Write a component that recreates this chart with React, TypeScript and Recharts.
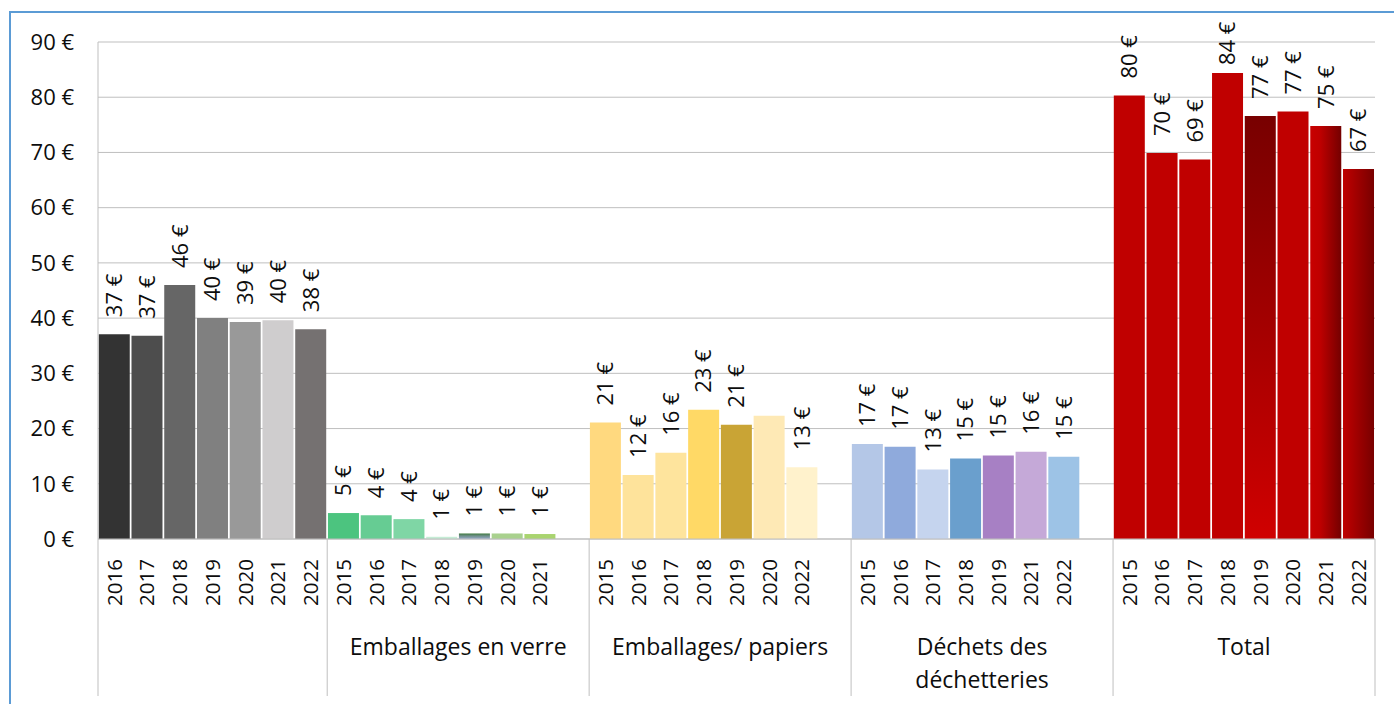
import React from 'react';
import { BarChart, Bar, XAxis, YAxis, CartesianGrid, Cell, LabelList } from 'recharts';

// ---------- data ----------
const GROUP_LABELS: string[][] = [
  [],
  ['Emballages en verre'],
  ['Emballages/ papiers'],
  ['Déchets des', 'déchetteries'],
  ['Total'],
];

const YEARS_1 = ['2016', '2017', '2018', '2019', '2020', '2021', '2022'];
const VALUES_1 = [37.1, 36.8, 46.0, 40.0, 39.3, 39.6, 38.0];
const LABELS_1 = ['37 €', '37 €', '46 €', '40 €', '39 €', '40 €', '38 €'];

const YEARS_2 = ['2015', '2016', '2017', '2018', '2019', '2020', '2021'];
const VALUES_2 = [4.7, 4.3, 3.6, 0.4, 1.0, 1.0, 0.9];
const LABELS_2 = ['5 €', '4 €', '4 €', '1 €', '1 €', '1 €', '1 €'];

const YEARS_3 = ['2015', '2016', '2017', '2018', '2019', '2020', '2022'];
const VALUES_3 = [21.1, 11.6, 15.6, 23.4, 20.7, 22.3, 13.0];
const LABELS_3 = ['21 €', '12 €', '16 €', '23 €', '21 €', '', '13 €'];

const YEARS_4 = ['2015', '2016', '2017', '2018', '2019', '2021', '2022'];
const VALUES_4 = [17.2, 16.7, 12.6, 14.6, 15.1, 15.8, 14.9];
const LABELS_4 = ['17 €', '17 €', '13 €', '15 €', '15 €', '16 €', '15 €'];

const YEARS_5 = ['2015', '2016', '2017', '2018', '2019', '2020', '2021', '2022'];
const VALUES_5 = [80.3, 69.9, 68.7, 84.4, 76.6, 77.4, 74.8, 67.0];
const LABELS_5 = ['80 €', '70 €', '69 €', '84 €', '77 €', '77 €', '75 €', '67 €'];

const Y_TICKS = [0, 10, 20, 30, 40, 50, 60, 70, 80, 90];

// ---------- styles ----------
const GROUP_SLOTS = [7, 8, 8, 8, 8];
const COLORS: string[][] = [
  ['#333333', '#4d4d4d', '#666666', '#808080', '#999999', '#cfcdce', '#757171'],
  ['#4cc47f', '#66cc93', '#7fd6a5', '#c5ecd5', 'url(#gGreen19)', '#a9d18e', '#a9d46f'],
  ['#ffd97f', '#fee39b', '#fee49d', '#ffd966', '#c9a435', '#fee9b5', '#fff2cc'],
  ['#b4c7e7', '#8faadc', '#c5d4ee', '#6a9fcd', '#a780c4', '#c5a9d8', '#9dc3e6'],
  ['#c00000', '#c00000', '#c00000', '#c00000', 'url(#gRed19)', '#c00000', 'url(#gRed21)', 'url(#gRed22)'],
];

const FONT = '"Open Sans", "Noto Sans", sans-serif';
const TEXT = '#0d0d0d';
const AXIS = '#bfbfbf';

const W = 1394;
const H = 704;
const M = { top: 42, right: 19, bottom: 5, left: 10 };
const Y_W = 88;
const X_H = 160;
const LABEL_TOP_LIMIT = 20;
const LABEL_LEN = 45;

type Slot = {
  id: string;
  year: string;
  value: number | null;
  label: string;
  fill: string;
  group: number;
  first: boolean;
  lastOverall: boolean;
  labelSlot: boolean;
  labelShift: boolean;
};

const GROUPS = [
  { years: YEARS_1, values: VALUES_1, labels: LABELS_1 },
  { years: YEARS_2, values: VALUES_2, labels: LABELS_2 },
  { years: YEARS_3, values: VALUES_3, labels: LABELS_3 },
  { years: YEARS_4, values: VALUES_4, labels: LABELS_4 },
  { years: YEARS_5, values: VALUES_5, labels: LABELS_5 },
];

const SLOTS: Slot[] = [];
GROUPS.forEach((g, gi) => {
  const n = GROUP_SLOTS[gi];
  const even = n % 2 === 0;
  const labelIdx = even ? n / 2 - 1 : Math.floor(n / 2);
  for (let k = 0; k < n; k++) {
    const has = k < g.years.length;
    SLOTS.push({
      id: `s${SLOTS.length}`,
      year: has ? g.years[k] : '',
      value: has ? g.values[k] : null,
      label: has ? g.labels[k] : '',
      fill: has ? COLORS[gi][k] : '#fff',
      group: gi,
      first: k === 0,
      lastOverall: gi === GROUPS.length - 1 && k === n - 1,
      labelSlot: k === labelIdx,
      labelShift: even,
    });
  }
});

const PLOT_W = W - M.left - M.right - Y_W;
const HALF = PLOT_W / SLOTS.length / 2;

const XTick = (props: any) => {
  const { x, y, payload } = props;
  const i = payload?.index ?? props.index;
  const s = SLOTS[i];
  if (!s) return null;
  const cx = Number(x);
  const cy = Number(y);
  const lines = GROUP_LABELS[s.group];
  return (
    <g>
      {s.year && (
        <text
          transform={`translate(${cx + 7.3},${cy + 20}) rotate(-90)`}
          textAnchor="end"
          fontSize={20.5}
          fontFamily={FONT}
          fill={TEXT}
        >
          {s.year}
        </text>
      )}
      {s.first && <line x1={cx - HALF} x2={cx - HALF} y1={cy} y2={cy + 157} stroke={AXIS} strokeWidth={1} />}
      {s.lastOverall && <line x1={cx + HALF} x2={cx + HALF} y1={cy} y2={cy + 157} stroke={AXIS} strokeWidth={1} />}
      {s.labelSlot &&
        lines.map((t, k) => (
          <text
            key={k}
            x={cx + (s.labelShift ? HALF : 0)}
            y={cy + 116 + k * 33}
            textAnchor="middle"
            fontSize={23}
            fontFamily={FONT}
            fill={TEXT}
          >
            {t}
          </text>
        ))}
    </g>
  );
};

const BarLabel = (props: any) => {
  const { x, y, width, value } = props;
  if (!value) return null;
  const cx = Number(x) + Number(width) / 2;
  const bottom = Math.max(Number(y) - 17, LABEL_TOP_LIMIT + LABEL_LEN);
  return (
    <text
      transform={`translate(${cx + 7.8},${bottom}) rotate(-90)`}
      textAnchor="start"
      fontSize={22}
      fontFamily={FONT}
      fill={TEXT}
    >
      {value}
    </text>
  );
};

export default function App() {
  return (
    <div style={{ position: 'absolute', left: 0, top: 0, width: W, height: H, background: '#fff', overflow: 'hidden' }}>
      <div
        style={{
          position: 'absolute',
          left: 9,
          top: 11,
          width: W,
          height: H,
          borderTop: '2px solid #5b9bd5',
          borderLeft: '2px solid #5b9bd5',
          boxSizing: 'border-box',
        }}
      />
      <div style={{ position: 'absolute', left: 0, top: 0 }}>
        <BarChart width={W} height={H} data={SLOTS} margin={M} barCategoryGap={0.75} barGap={0}>
          <defs>
            <linearGradient id="gGreen19" x1="0" y1="0" x2="0" y2="1">
              <stop offset="0" stopColor="#3f7a3f" />
              <stop offset="0.45" stopColor="#6f8f8a" />
              <stop offset="1" stopColor="#97aacb" />
            </linearGradient>
            <linearGradient id="gRed19" x1="0" y1="0" x2="0" y2="1">
              <stop offset="0" stopColor="#780000" />
              <stop offset="1" stopColor="#d00000" />
            </linearGradient>
            <linearGradient id="gRed21" x1="0" y1="0" x2="1" y2="0">
              <stop offset="0" stopColor="#c80000" />
              <stop offset="0.3" stopColor="#c00000" />
              <stop offset="1" stopColor="#740000" />
            </linearGradient>
            <linearGradient id="gRed22" x1="0" y1="0" x2="1" y2="0">
              <stop offset="0" stopColor="#c00000" />
              <stop offset="1" stopColor="#780000" />
            </linearGradient>
          </defs>
          <CartesianGrid vertical={false} stroke={AXIS} strokeWidth={1} />
          <XAxis
            dataKey="id"
            interval={0}
            tickLine={false}
            tickSize={0}
            tickMargin={0}
            height={X_H}
            axisLine={{ stroke: AXIS, strokeWidth: 1 }}
            tick={(p: any) => <XTick {...p} />}
          />
          <YAxis
            width={Y_W}
            domain={[0, 90]}
            ticks={Y_TICKS}
            interval={0}
            tickLine={false}
            tickSize={0}
            tickMargin={24}
            axisLine={{ stroke: AXIS, strokeWidth: 1 }}
            tickFormatter={(v: number) => `${v} €`}
            tick={{ fill: TEXT, fontSize: 22, fontFamily: FONT }}
          />
          <Bar dataKey="value" isAnimationActive={false}>
            {SLOTS.map((s) => (
              <Cell key={s.id} fill={s.fill} />
            ))}
            <LabelList dataKey="label" content={(p: any) => <BarLabel {...p} />} />
          </Bar>
        </BarChart>
      </div>
    </div>
  );
}
